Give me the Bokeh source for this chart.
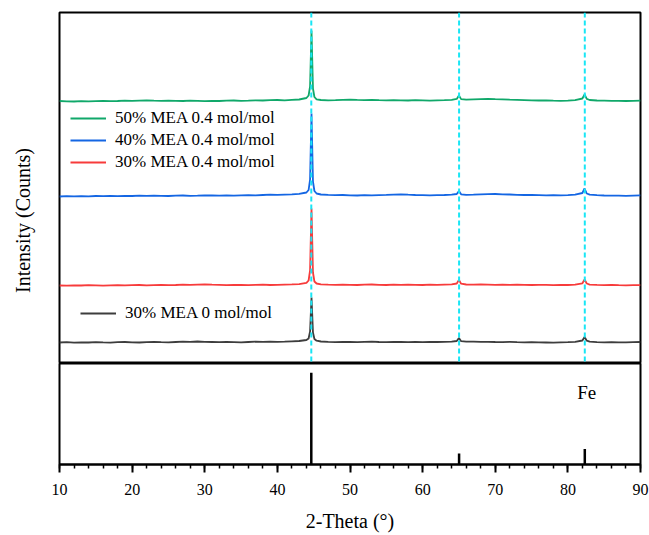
from math import pi

from bokeh.embed import file_html
from bokeh.layouts import column, row
from bokeh.models import (ColumnDataSource, FixedTicker, Label, Legend,
                          LegendItem, Range1d, Span)
from bokeh.plotting import figure
from bokeh.resources import INLINE

# 2-theta sampling grid (deg)
two_theta = (
    [float(v) for v in range(10, 45)]
    + [44.3, 44.5, 44.7, 44.9, 45.1, 45.4]
    + [float(v) for v in range(46, 65)]
    + [64.7, 65.0, 65.3]
    + [float(v) for v in range(66, 82)]
    + [82.0, 82.3, 82.6]
    + [float(v) for v in range(83, 91)]
)

# Intensities (a.u.), before vertical stacking
mea30_0 = [
    21, 21.3, 20.8, 21.2, 21, 21.4, 21.1, 20.9, 21.3, 21.5, 21.2, 21, 21.4, 21.6, 21.3,
    21.1, 21.5, 21.8, 21.6, 22, 21.7, 21.5, 21.3, 21.6, 21.4, 21.2, 21.5, 21.8, 21.6,
    21.9, 21.7, 21.9, 22.2, 22.5, 23.5,
    25, 32, 66, 31, 24.5, 22.8,
    22, 21.6, 21.4, 21.7, 21.5, 21.3, 21.6, 21.8, 21.5, 21.4, 21.7, 21.5, 21.3, 21.6,
    21.4, 21.6, 21.5, 21.7, 21.9,
    22.5, 25.5, 22.3,
    21.8, 21.9, 21.6, 21.7, 21.5, 21.4, 21.6, 21.3, 21.2, 21.4, 21.1, 21, 20.9, 21.1,
    21.3, 21.6,
    23, 26.5, 22.8,
    21.8, 21.4, 21.2, 21.3, 21.1, 21.2, 21.4, 21.5,
]
mea30_04 = [
    21, 20.8, 21.2, 21, 21.3, 21.1, 20.9, 21.2, 21.4, 21.1, 21.3, 21.5, 21.2, 21.4, 21.6,
    21.3, 21.5, 21.8, 21.6, 21.9, 22.1, 21.8, 21.6, 21.4, 21.7, 21.5, 21.3, 21.6, 21.8,
    21.5, 21.7, 21.9, 22.1, 22.4, 23.6,
    26, 36, 98, 34, 25, 23,
    22.2, 21.8, 21.6, 21.9, 21.7, 21.5, 21.8, 22, 21.7, 21.5, 21.8, 21.6, 21.9, 21.7,
    21.5, 21.8, 21.6, 21.9, 22.2,
    23, 26.5, 22.8,
    22, 21.8, 22.1, 21.9, 21.7, 21.8, 21.6, 21.9, 21.7, 21.5, 21.7, 21.6, 21.4, 21.6,
    21.5, 21.8,
    23.2, 27, 23,
    21.9, 21.6, 21.4, 21.6, 21.3, 21.2, 21.4, 21.3,
]
mea40_04 = [
    21, 21.3, 21.1, 21.4, 21.2, 21.5, 21.3, 21.6, 21.4, 21.7, 21.5, 21.8, 21.6, 21.9, 21.7,
    21.5, 21.8, 22, 21.7, 21.9, 22.2, 22, 21.8, 22.1, 21.9, 22.2, 22.4, 22.1, 22.5,
    22.8, 22.6, 22.9, 23.2, 23.6, 25,
    27.5, 38, 104, 36, 26.5, 24,
    23, 22.6, 22.3, 22.5, 22.2, 22, 22.3, 22.1, 22.4, 22.6, 22.9, 23.2, 22.8, 22.5,
    22.3, 22.1, 22.3, 22.5, 22.8,
    23.5, 26.5, 23.2,
    22.6, 22.8, 23.1, 23.3, 23.5, 23.2, 23, 22.7, 22.5, 22.6, 22.4, 22.2, 22.3, 22.1,
    22.4, 22.8,
    24.5, 29, 24,
    22.8, 22.3, 22, 21.8, 21.9, 21.7, 21.9, 22.1,
]
mea50_04 = [
    21.5, 21.2, 21, 21.3, 21.1, 21.4, 21.6, 21.3, 21.5, 21.8, 21.6, 21.9, 22.1, 21.8, 21.6,
    21.9, 21.7, 21.5, 21.8, 21.6, 21.4, 21.7, 21.5, 21.8, 22, 21.7, 21.9, 22.2, 22,
    22.3, 22.5, 22.2, 22.6, 23, 24.5,
    27, 36, 92, 34, 25.5, 23.2,
    22.5, 22.2, 22.4, 22.7, 22.9, 22.6, 22.4, 22.6, 22.3, 22.1, 22.4, 22.2, 22, 22.3,
    22.1, 21.9, 22.2, 22.4, 22.7,
    23.6, 27, 23.4,
    22.8, 23.1, 23.4, 23.6, 23.3, 23.1, 22.8, 22.6, 22.4, 22.2, 22, 22.2, 21.9, 21.7,
    21.9, 22.3,
    24, 28, 23.6,
    22.5, 22, 21.8, 21.6, 21.7, 21.5, 21.6, 21.8,
]

series_names = ["30% MEA 0 mol/mol", "30% MEA 0.4 mol/mol",
                "40% MEA 0.4 mol/mol", "50% MEA 0.4 mol/mol"]
series_values = [mea30_0, mea30_04, mea40_04, mea50_04]
series_offsets = [0, 57, 146, 241]
series_colors = ["#3d3d3d", "#f73b3b", "#1466e3", "#10a86a"]

# Fe reference pattern
fe_positions = [44.67, 65.02, 82.33]
fe_intensities = [100, 12, 17]

FONT = "Liberation Serif"

# ---- upper panel: stacked patterns ----
p1 = figure(frame_width=581, frame_height=351,
            x_range=Range1d(10, 90), y_range=Range1d(0, 351),
            x_axis_location=None, y_axis_location=None,
            min_border_left=10, min_border_right=9,
            min_border_top=12, min_border_bottom=0,
            output_backend="svg", toolbar_location=None)
p1.grid.visible = False
p1.outline_line_color = "black"
p1.outline_line_width = 2
p1.outline_line_alpha = 1.0

renderers = []
for name, vals, off, col in zip(series_names, series_values, series_offsets, series_colors):
    src = ColumnDataSource(dict(x=two_theta, y=[v + off for v in vals]))
    r = p1.line("x", "y", source=src, line_color=col, line_width=1.8)
    renderers.append(r)

for pos in fe_positions:
    p1.add_layout(Span(location=pos, dimension="height", line_color="#19e6f5",
                       line_width=2, line_dash="5 3"))


def make_legend(items, loc):
    leg = Legend(items=items, location=loc, glyph_width=36, glyph_height=22,
                 label_height=22, spacing=0, padding=0, margin=0,
                 label_standoff=9, label_text_font=FONT,
                 label_text_font_size="17px", label_text_color="black",
                 background_fill_alpha=0, border_line_alpha=0)
    return leg


top_items = [LegendItem(label=series_names[i], renderers=[renderers[i]]) for i in (3, 2, 1)]
p1.add_layout(make_legend(top_items, (11, 190)))
p1.add_layout(make_legend([LegendItem(label=series_names[0], renderers=[renderers[0]])], (21, 39)))

# ---- lower panel: Fe sticks ----
p2 = figure(frame_width=581, frame_height=101,
            x_range=p1.x_range, y_range=Range1d(0, 110),
            y_axis_location=None,
            min_border_left=10, min_border_right=9,
            min_border_top=0, min_border_bottom=10,
            output_backend="svg", toolbar_location=None)
p2.grid.visible = False
p2.outline_line_color = "black"
p2.outline_line_width = 2
p2.outline_line_alpha = 1.0

p2.segment(x0=fe_positions, y0=[0] * len(fe_positions),
           x1=fe_positions, y1=fe_intensities,
           line_color="black", line_width=2.5)
p2.add_layout(Label(x=82.6, y=78, text="Fe", text_align="center",
                    text_baseline="middle", text_font=FONT,
                    text_font_size="19px", text_color="black"))

ax = p2.xaxis[0]
ax.ticker = FixedTicker(ticks=list(range(10, 91, 10)),
                        minor_ticks=list(range(10, 91, 2)))
ax.axis_line_width = 2
ax.major_tick_out = 8
ax.major_tick_in = 0
ax.minor_tick_out = 4
ax.minor_tick_in = 0
ax.major_tick_line_width = 2
ax.minor_tick_line_width = 1.5
ax.major_label_text_font = FONT
ax.major_label_text_font_size = "16px"
ax.major_label_text_color = "black"
ax.major_label_standoff = 11
ax.axis_label = "2-Theta (°)"
ax.axis_label_text_font = FONT
ax.axis_label_text_font_size = "20px"
ax.axis_label_text_font_style = "normal"
ax.axis_label_text_color = "black"
ax.axis_label_standoff = 12

# ---- strip holding the vertical axis title ----
side = figure(width=49, height=535, x_range=Range1d(0, 49), y_range=Range1d(0, 535),
              x_axis_location=None, y_axis_location=None, min_border=0,
              output_backend="svg", toolbar_location=None)
side.grid.visible = False
side.outline_line_color = None
side.add_layout(Label(x=22, y=315, text="Intensity (Counts)", angle=pi / 2,
                      text_align="center", text_baseline="middle",
                      text_font=FONT, text_font_size="20px", text_color="black"))

layout = row(side, column(p1, p2))
open("out.html", "w").write(file_html(layout, INLINE))
